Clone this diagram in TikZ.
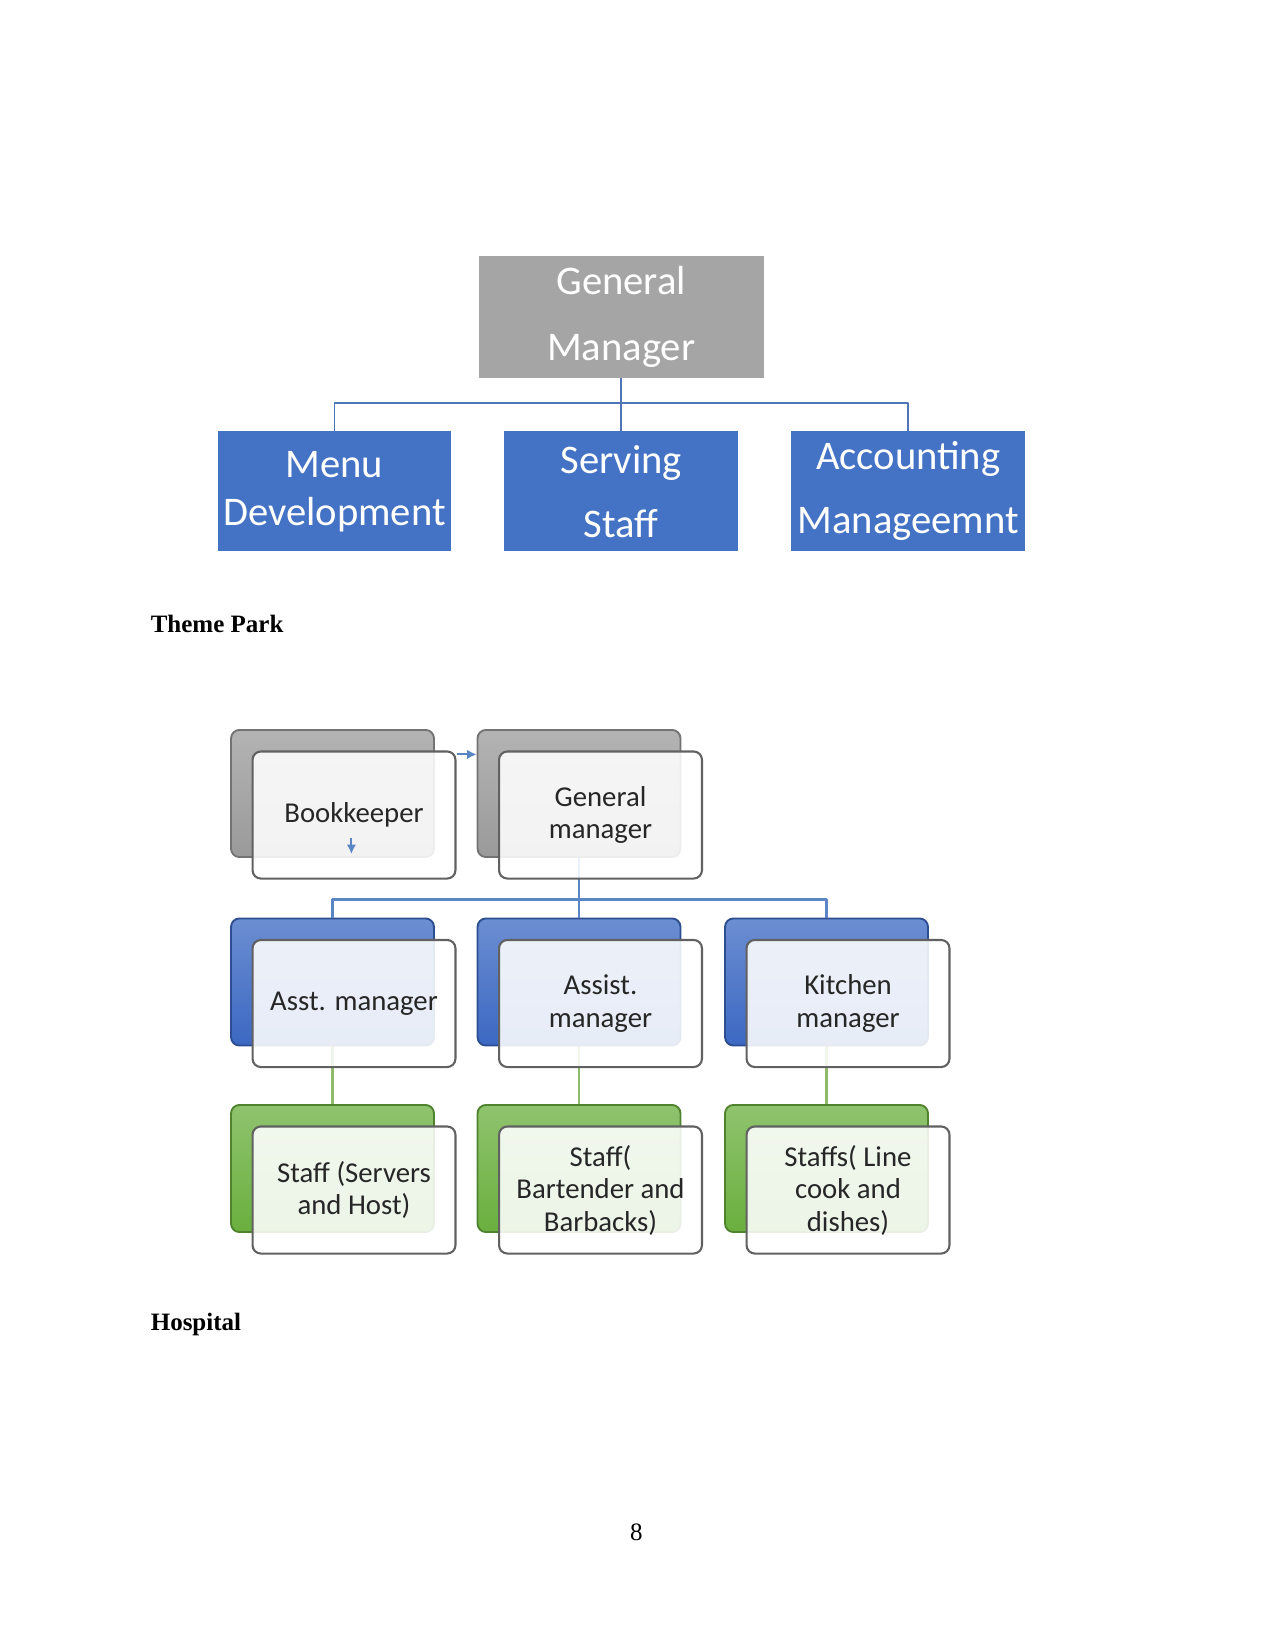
\documentclass[tikz,border=0pt]{standalone}
\usepackage{fontspec}
\setmainfont{Liberation Serif}
\newfontfamily\calibri{Carlito}
\usetikzlibrary{calc,arrows.meta}

\definecolor{gmgray}{HTML}{A5A5A5}
\definecolor{unitblue}{HTML}{4472C4}
\definecolor{backgray}{HTML}{9A9A9A}
\definecolor{backblue}{HTML}{3B68C2}
\definecolor{backgreen}{HTML}{6AAF3E}
\definecolor{linkblue}{HTML}{5A86C6}
\definecolor{linkgreen}{HTML}{8DBB6A}

\begin{document}
\begin{tikzpicture}[x=0.48pt,y=-0.48pt,line join=round,
	topbox/.style={rectangle,inner sep=0pt,minimum width=112.3pt,minimum height=57.5pt,
		fill=unitblue,text=white,align=center},
	backbox/.style={rectangle,rounded corners=4pt,minimum width=97.4pt,minimum height=61pt,
		draw=#1!75!black,line width=0.9pt,top color=#1!75!white,middle color=#1!92!white,bottom color=#1},
	frontbox/.style={rectangle,rounded corners=4pt,minimum width=97.4pt,minimum height=61pt,
		draw=black!62,line width=1pt,fill=white,fill opacity=0.88,text opacity=1,align=center,
		text=black!85,font=\calibri\fontsize{13.8}{15.6}\selectfont},
	pagetext/.style={inner sep=0pt,font=\fontsize{12}{14}\selectfont},
	headtext/.style={inner sep=0pt,anchor=base west,font=\fontsize{12}{14}\selectfont\bfseries},
	smallarrow/.style={linkblue,line width=0.9pt,-{Latex[length=4.5pt,width=4.5pt]}}]
	\useasboundingbox (0,0) rectangle (1275,1650);

	% Restaurant chart
	\node[topbox,fill=gmgray,minimum width=136.8pt,minimum height=58.1pt,
		font=\calibri\fontsize{19.5}{31.7}\selectfont] (top) at (621.2,317) {General\\Manager};
	\node[topbox,font=\calibri\fontsize{19.5}{23}\selectfont] (menu) at (334.5,491.3) {Menu\\Development};
	\node[topbox,font=\calibri\fontsize{19.5}{30.8}\selectfont] (serv) at (621.2,491.3) {Serving\\Staff};
	\node[topbox,font=\calibri\fontsize{19.5}{30.8}\selectfont] (acct) at (908.2,491.3) {Accounting\\Manageemnt};

	\coordinate (topbus) at (621.2,403);
	\draw[unitblue!80!gray,line width=0.7pt] (top.south) -- (serv.north);
	\draw[unitblue!80!gray,line width=0.7pt] (menu.north) |- (topbus) -| (acct.north);

	% Labels
	\node[headtext] (park) at (150.4,632) {Theme Park};
	\node[headtext] (hosp) at (150.4,1330) {Hospital};
	\node[pagetext,anchor=base] (page) at (636.4,1540) {8};

	% Theme park chart, back boxes
	\node[backbox=backgray] (bkB) at (332.5,793.5) {};
	\node[backbox=backgray] (gmB) at (579,793.5) {};
	\node[backbox=backblue] (amB) at (332.5,982) {};
	\node[backbox=backblue] (asB) at (579,982) {};
	\node[backbox=backblue] (kmB) at (826.5,982) {};
	\node[backbox=backgreen] (svB) at (332.5,1168.5) {};
	\node[backbox=backgreen] (brB) at (579,1168.5) {};
	\node[backbox=backgreen] (lnB) at (826.5,1168.5) {};

	% Links
	\coordinate (bus) at (579,899.4);
	\draw[linkblue,line width=1.2pt] (gmB.south) -- (asB.north);
	\draw[linkblue,line width=1.2pt] (amB.north) |- (bus) -| (kmB.north);
	\foreach \a/\b in {amB/svB,asB/brB,kmB/lnB}
		\draw[linkgreen,line width=1.2pt] (\a.south) -- (\b.north);

	% Front boxes
	\node[frontbox] (bk) at (354,815) {Bookkeeper};
	\node[frontbox] (gm) at (600.5,815) {General\\manager};
	\node[frontbox] (am) at (354,1003.5) {Asst. manager};
	\node[frontbox] (as) at (600.5,1003.5) {Assist.\\manager};
	\node[frontbox] (km) at (848,1003.5) {Kitchen\\manager};
	\node[frontbox] (sv) at (354,1190) {Staff (Servers\\and Host)};
	\node[frontbox] (br) at (600.5,1190) {Staff(\\Bartender and\\Barbacks)};
	\node[frontbox] (ln) at (848,1190) {Staffs( Line\\cook and\\dishes)};

	% Small arrows
	\coordinate (bkout) at ($(bk.north east)+(0,4)$);
	\draw[smallarrow] (bkout) -- (bkout -| gmB.west);
	\coordinate (bkdown) at (351.4,838);
	\draw[smallarrow] (bkdown) -- ++(0,16);
\end{tikzpicture}
\end{document}
